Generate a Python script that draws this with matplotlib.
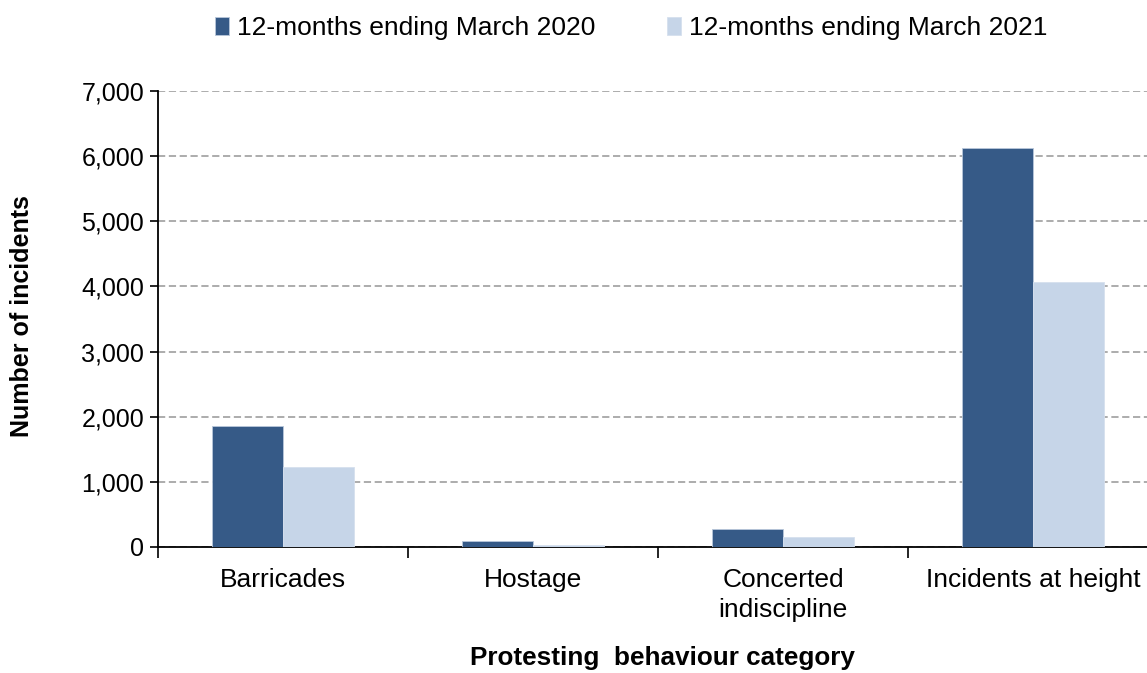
import numpy as np
import matplotlib
matplotlib.use("Agg")
import matplotlib.pyplot as plt
from matplotlib.ticker import FuncFormatter, FixedLocator

plt.rcParams['font.family'] = ['Liberation Sans', 'DejaVu Sans']

# ---- data ---------------------------------------------------------------------
categories = ['Barricades', 'Hostage', 'Concerted\nindiscipline', 'Incidents at height']
series_names = ['12-months ending March 2020', '12-months ending March 2021']
values_2020 = [1860, 90, 280, 6120]
values_2021 = [1230, 30, 150, 4070]
y_ticks = [0, 1000, 2000, 3000, 4000, 5000, 6000, 7000]

col_2020 = '#365A87'
col_2021 = '#C6D5E8'

# ---- plot ---------------------------------------------------------------------
fig = plt.figure(figsize=(11.47, 6.73), dpi=100)
ax = fig.add_axes([158/1147, 1-547/673, (1158-158)/1147, (547-91)/673])

x = np.arange(len(categories))
w = 0.284
ax.bar(x - w/2, values_2020, width=w, color=col_2020, edgecolor='#B8C7DA', linewidth=0.6,
       label=series_names[0], zorder=3)
ax.bar(x + w/2, values_2021, width=w, color=col_2021, edgecolor='#D6E0EE', linewidth=0.6,
       label=series_names[1], zorder=3)

ax.set_xlim(-0.5, len(categories) - 0.5)
ax.set_ylim(0, 7000)
ax.set_yticks(y_ticks)
ax.yaxis.set_major_formatter(FuncFormatter(lambda v, p: f'{int(v):,}'))
ax.grid(axis='y', linestyle=(0, (4, 2)), color='#A6A6A6', linewidth=1.3, zorder=0)

# category labels centred, tick marks on boundaries
ax.set_xticks(x)
ax.set_xticklabels(categories, fontsize=19, linespacing=1.3)
ax.tick_params(axis='x', length=0, pad=15)
ax.xaxis.set_minor_locator(FixedLocator(np.arange(-0.5, len(categories), 1.0)))
ax.tick_params(axis='x', which='minor', length=8, width=1.2, direction='out')
ax.tick_params(axis='y', labelsize=18, length=6, width=1.2, direction='out', pad=4)

for s in ['top', 'right']:
    ax.spines[s].set_visible(False)
ax.spines['left'].set_linewidth(1.3)
ax.spines['bottom'].set_linewidth(1.3)

fig.text(22/1147, 1-316/673, 'Number of incidents', fontsize=18, fontweight='bold',
         rotation=90, ha='center', va='center')
fig.text(662/1147, 1-646/673, 'Protesting  behaviour category', fontsize=18.8,
         fontweight='bold', ha='center', va='top')

leg = fig.legend(loc='center', bbox_to_anchor=(631/1147, 1-28/673), ncol=2, frameon=False,
                 fontsize=19, handlelength=0.55, handleheight=0.7, handletextpad=0.3,
                 columnspacing=2.7)

plt.savefig('out.png', dpi=100)
